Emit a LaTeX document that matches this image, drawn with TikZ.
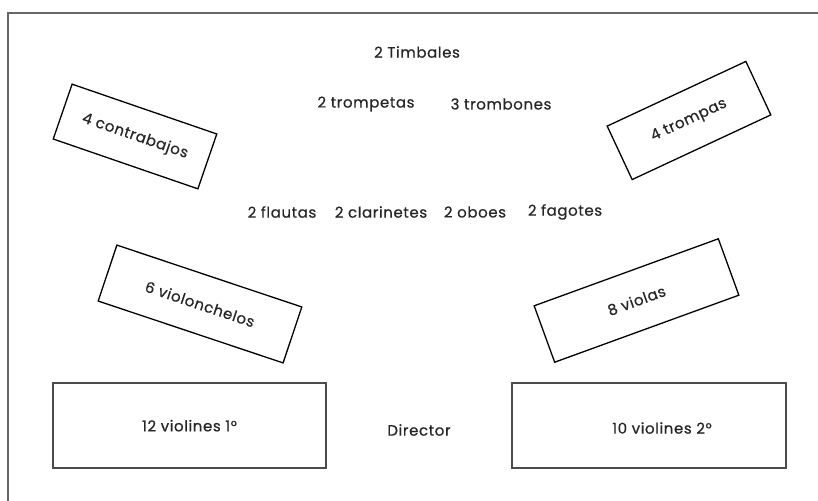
\documentclass[tikz,border=0pt]{standalone}
\usepackage{fontspec}
\setmainfont{Poppins}[FakeBold=0.5, LetterSpace=4]
\begin{document}
\begin{tikzpicture}[x=1pt,y=1pt,
  txt/.style={text=black!85, font=\fontsize{15}{17}\selectfont},
  lbl/.style={txt, inner sep=0pt},
  tiltbox/.style={txt, draw=black, line width=1.3pt, inner sep=0pt},
  flatbox/.style={txt, draw=black!70, line width=2pt, inner sep=0pt}]
\useasboundingbox (0,0) rectangle (818,-500);
\fill[white] (0,0) rectangle (818,-500);
\draw[black!60, line width=2.5pt] (8,-502) -- (8,-13) -- (820,-13);

\node[lbl] (timb) at (417,-52) {2 Timbales};
\node[lbl] (trp) at (366,-104) {2 trompetas};
\node[lbl] (trb) at (501,-104) {3 trombones};
\node[lbl] (fla) at (282,-212) {2 flautas};
\node[lbl] (cla) at (381,-212) {2 clarinetes};
\node[lbl] (obo) at (475,-212) {2 oboes};
\node[lbl] (fag) at (565,-212) {2 fagotes};
\node[lbl] (dir) at (419,-430) {Director};

\node[tiltbox, minimum width=153pt, minimum height=58pt, rotate=-19] (cb) at (135,-136.5) {4 contrabajos};
\node[tiltbox, minimum width=153pt, minimum height=59pt, rotate=25] (tpa) at (689,-120.5) {4 trompas};
\node[tiltbox, minimum width=195pt, minimum height=59pt, rotate=-18.5] (vc) at (200,-304) {6 violonchelos};
\node[tiltbox, minimum width=196pt, minimum height=60pt, rotate=20] (vla) at (636.5,-300.5) {8 violas};

\node[flatbox, minimum width=273pt, minimum height=85pt] (v1) at (189.5,-425.7) {12 violines 1°};
\node[flatbox, minimum width=274pt, minimum height=85pt] (v2) at (649,-425.7) {};
\node[lbl] (v2t) at (662,-428) {10 violines 2°};
\end{tikzpicture}
\end{document}
